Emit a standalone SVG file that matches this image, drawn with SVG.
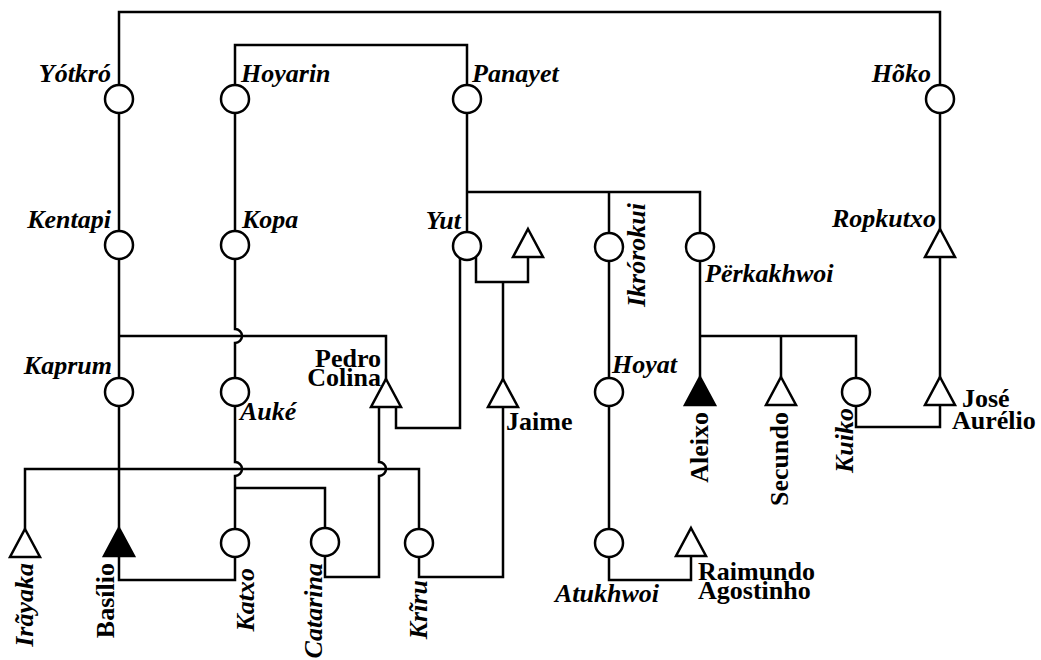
<svg xmlns="http://www.w3.org/2000/svg" width="1041" height="660" viewBox="0 0 1041 660">
<style>
.ln{fill:none;stroke:#000;stroke-width:2.5}
.o{fill:#fff;stroke:#000;stroke-width:2.5}
.k{fill:#000;stroke:#000;stroke-width:2.5}
text{font-family:"Liberation Serif","Times New Roman",serif;font-size:26px;font-weight:bold;fill:#000}
.it{font-style:italic}
</style>
<rect width="1041" height="660" fill="#fff"/>
<g id="connectors" class="ln">
<path d="M119,99 V12 H940 V99"/>
<path d="M235,99 V45 H467 V99"/>
<path d="M119,99 V528"/>
<path d="M119,336 H386 V380"/>
<path d="M25,529 V469 H419 V543"/>
<path d="M235,99 V329 a7,7 0 0 1 0,14 V462 a7,7 0 0 1 0,14 V543"/>
<path d="M235,488 H325 V542"/>
<path d="M119,556 V580 H235 V543"/>
<path d="M325,542 V577 H379 V476 a7,7 0 0 0 0,-14 V407"/>
<path d="M419,543 V577 H503 V407"/>
<path d="M396,407 V428 H460 V255"/>
<path d="M467,99 V246"/>
<path d="M467,192 H700 V247"/>
<path d="M609,192 V580 H691 V556"/>
<path d="M476,252 V282 H528 V257"/>
<path d="M503,282 V380"/>
<path d="M700,247 V377"/>
<path d="M700,336 H856 V392"/>
<path d="M781,336 V377"/>
<path d="M940,99 V427 H856 V392"/>
</g>
<g id="yotkro"><circle class="o" cx="119" cy="99" r="14"/><text class="it" x="111" y="82" text-anchor="end">Yótkró</text></g>
<g id="hoyarin"><circle class="o" cx="235" cy="99" r="14"/><text class="it" x="241" y="82">Hoyarin</text></g>
<g id="panayet"><circle class="o" cx="467" cy="99" r="14"/><text class="it" x="472" y="82">Panayet</text></g>
<g id="hoko"><circle class="o" cx="940" cy="99" r="14"/><text class="it" x="931" y="82" text-anchor="end">Hõko</text></g>
<g id="kentapi"><circle class="o" cx="119" cy="245" r="14"/><text class="it" x="111" y="228" text-anchor="end">Kentapi</text></g>
<g id="kopa"><circle class="o" cx="235" cy="245" r="14"/><text class="it" x="242" y="228">Kopa</text></g>
<g id="yut"><circle class="o" cx="467" cy="246" r="14"/><text class="it" x="461" y="229" text-anchor="end">Yut</text></g>
<g id="yut-husband"><polygon class="o" points="528,229 543,257 513,257"/></g>
<g id="ikrorokui"><circle class="o" cx="609" cy="247" r="14"/><text class="it" transform="translate(645,307) rotate(-90)">Ikrórokui</text></g>
<g id="perkakhwoi"><circle class="o" cx="700" cy="247" r="14"/><text class="it" x="705" y="282">Përkakhwoi</text></g>
<g id="ropkutxo"><polygon class="o" points="940,229 955,257 925,257"/><text class="it" x="936" y="227" text-anchor="end">Ropkutxo</text></g>
<g id="kaprum"><circle class="o" cx="119" cy="392" r="14"/><text class="it" x="112" y="374" text-anchor="end">Kaprum</text></g>
<g id="auke"><circle class="o" cx="235" cy="392" r="14"/><text class="it" x="240" y="420">Auké</text></g>
<g id="pedro-colina"><polygon class="o" points="386,379 401,407 371,407"/><text text-anchor="end"><tspan x="381" y="367">Pedro</tspan><tspan x="381" y="386">Colina</tspan></text></g>
<g id="jaime"><polygon class="o" points="503,379 518,407 488,407"/><text x="506" y="430">Jaime</text></g>
<g id="hoyat"><circle class="o" cx="609" cy="392" r="14"/><text class="it" x="612" y="373">Hoyat</text></g>
<g id="aleixo"><polygon class="k" points="700,377 715,405 685,405"/><text transform="translate(708,412) rotate(-90)" text-anchor="end">Aleixo</text></g>
<g id="secundo"><polygon class="o" points="781,377 796,405 766,405"/><text transform="translate(788,412) rotate(-90)" text-anchor="end">Secundo</text></g>
<g id="kuiko"><circle class="o" cx="856" cy="392" r="14"/><text class="it" transform="translate(853,408) rotate(-90)" text-anchor="end">Kuiko</text></g>
<g id="jose-aurelio"><polygon class="o" points="940,377 955,405 925,405"/><text><tspan x="962" y="407">José</tspan><tspan x="952" y="429">Aurélio</tspan></text></g>
<g id="irayaka"><polygon class="o" points="25,529 40,557 10,557"/><text class="it" transform="translate(33,563) rotate(-90)" text-anchor="end">Irãyaka</text></g>
<g id="basilio"><polygon class="k" points="119,528 134,556 104,556"/><text transform="translate(114,563) rotate(-90)" text-anchor="end">Basílio</text></g>
<g id="katxo"><circle class="o" cx="235" cy="543" r="14"/><text class="it" transform="translate(254,568) rotate(-90)" text-anchor="end">Katxo</text></g>
<g id="catarina"><circle class="o" cx="325" cy="542" r="14"/><text class="it" transform="translate(322,563) rotate(-90)" text-anchor="end">Catarina</text></g>
<g id="kriru"><circle class="o" cx="419" cy="543" r="14"/><text class="it" transform="translate(427,580) rotate(-90)" text-anchor="end">Krĩru</text></g>
<g id="atukhwoi"><circle class="o" cx="609" cy="543" r="14"/><text class="it" x="607" y="602" text-anchor="middle">Atukhwoi</text></g>
<g id="raimundo-agostinho"><polygon class="o" points="691,528 706,556 676,556"/><text><tspan x="698" y="580">Raimundo</tspan><tspan x="698" y="599">Agostinho</tspan></text></g>
</svg>
